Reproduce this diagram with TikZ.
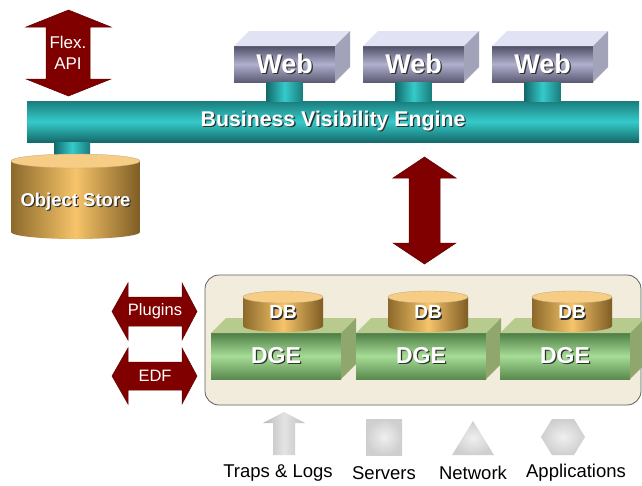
\documentclass[tikz,border=0pt]{standalone}
\usepackage{fontspec}
\setmainfont{Liberation Sans}
\usetikzlibrary{calc}
\definecolor{arrowred}{HTML}{800000}
\definecolor{tealdark}{HTML}{1A7C7C}
\definecolor{teallight}{HTML}{36CACA}
\definecolor{tealdeep}{HTML}{146A6A}
\definecolor{webdark}{HTML}{4F4F66}
\definecolor{weblight}{HTML}{B0B0CF}
\definecolor{webbot}{HTML}{5C5C74}
\definecolor{webtopc}{HTML}{E2E2F5}
\definecolor{websidec}{HTML}{A2A2B8}
\definecolor{ordark}{HTML}{8C692B}
\definecolor{orlight}{HTML}{F6C46A}
\definecolor{ordeep}{HTML}{7E5C24}
\definecolor{ortop}{HTML}{F7CC84}
\definecolor{grdark}{HTML}{4E7E45}
\definecolor{grlight}{HTML}{A6DC96}
\definecolor{grbot}{HTML}{5A8A4F}
\definecolor{grtop}{HTML}{B7CB8F}
\definecolor{grside}{HTML}{8FA66D}
\definecolor{cream}{HTML}{F1ECDB}
\definecolor{shadowc}{HTML}{303030}
\newcommand\shd[1]{\leavevmode\rlap{\kern1.3pt\raisebox{-1.3pt}{\color{shadowc}#1}}#1}
\begin{document}
\begin{tikzpicture}[x=1pt,y=-1pt,
  redarrow/.style={fill=arrowred, draw=arrowred!75!black, line width=0.5pt},
  stub/.style={left color=tealdeep, right color=tealdark, middle color=teallight},
  webfront/.style={minimum width=101pt, minimum height=36pt, inner sep=0pt, outer sep=0pt,
    top color=webdark, bottom color=webbot, middle color=weblight,
    text=white, font=\bfseries\fontsize{27}{32}\selectfont},
  webtop/.style={fill=webtopc},
  webside/.style={fill=websidec},
  dgefront/.style={minimum width=130pt, minimum height=46pt, inner sep=0pt, outer sep=0pt,
    top color=grdark, bottom color=grbot, middle color=grlight,
    text=white, font=\bfseries\fontsize{23}{27}\selectfont},
  dgetop/.style={fill=grtop},
  dgeside/.style={fill=grside},
  orbody/.style={left color=ordark, right color=ordeep, middle color=orlight},
  orcap/.style={fill=ortop, draw=ordark!60, line width=0.3pt},
  whitelbl/.style={text=white, inner sep=0pt, font=\bfseries\fontsize{19}{22}\selectfont},
  arrowlbl/.style={text=white, inner sep=0pt, align=center, font=\fontsize{17}{21}\selectfont},
  icon/.style={left color=gray!55, right color=gray!50, middle color=gray!22},
  iconflat/.style={inner color=gray!12, outer color=gray!38},
  caption/.style={inner sep=0pt, font=\fontsize{18.5}{22}\selectfont}
]
\useasboundingbox (0,0) rectangle (642,485);
\fill[white] (0,0) rectangle (642,485);

% ---- Flex. API arrow
\fill[redarrow] (68.5,10) -- (111,27) -- (90,27) -- (90,79) -- (111,79) -- (68.5,96)
  -- (26,79) -- (46,79) -- (46,27) -- (26,27) -- cycle;
\node[arrowlbl] (flex) at (68,53) {Flex.\\API};

% ---- Business Visibility Engine bar
\node[minimum width=612pt, minimum height=41pt, inner sep=0pt, outer sep=0pt,
  top color=tealdark, bottom color=tealdeep, middle color=teallight,
  text=white, font=\bfseries\fontsize{21.3}{25}\selectfont] (bve) at (333,121.5)
  {\shd{Business Visibility Engine}};

% ---- Web servers
\foreach \n/\cx in {web1/284.5, web2/413.5, web3/542.5}{
  \node[webfront] (\n) at (\cx,64) {\shd{Web}};
  \fill[webtop] (\n.north west) -- ++(15,-15) -- ++(101,0) -- (\n.north east) -- cycle;
  \fill[webside] (\n.north east) -- ++(15,-15) -- ++(0,36) -- (\n.south east) -- cycle;
  \shade[stub] ($(\n.south)+(-18,0)$) rectangle ($(\n.south)+(18,19)$);
}

% ---- Object store
\shade[stub] ($(bve.south west)+(27,0)$) rectangle ($(bve.south west)+(63,19)$);
\shade[orbody] (11,161) -- (11,232) arc[start angle=180, end angle=0, x radius=64.5, y radius=7]
  -- (140,161) -- cycle;
\fill[orcap] (75.5,161) ellipse[x radius=64.5, y radius=7];
\node[whitelbl, font=\bfseries\fontsize{18.5}{22}\selectfont] (store) at (75.5,202) {\shd{Object Store}};

% ---- Central double arrow
\coordinate (bigtop) at (424.5,157);
\coordinate (bigbot) at (424.5,264);
\fill[redarrow] (bigtop) -- ++(31.5,21) -- ++(-16,0) -- ++(0,65) -- ++(16,0) -- (bigbot)
  -- ++(-31.5,-21) -- ++(16,0) -- ++(0,-65) -- ++(-16,0) -- cycle;

% ---- Cluster container
\node[minimum width=436pt, minimum height=130pt, inner sep=0pt, rounded corners=14pt,
  fill=cream, draw=gray!75!black, line width=0.8pt] (cluster) at (423,340) {};

% ---- DGE boxes with DB cylinders
\foreach \n/\cx/\d in {dge1/276/db1, dge2/421/db2, dge3/565/db3}{
  \node[dgefront] (\n) at (\cx,356) {\shd{DGE}};
  \fill[dgetop] (\n.north west) -- ++(15,-15) -- ++(130,0) -- (\n.north east) -- cycle;
  \fill[dgeside] (\n.north east) -- ++(15,-15) -- ++(0,46) -- (\n.south east) -- cycle;
  \shade[orbody] (\cx-33,297) -- (\cx-33,326) arc[start angle=180, end angle=0, x radius=40, y radius=6]
    -- (\cx+47,297) -- cycle;
  \fill[orcap] (\cx+7,297) ellipse[x radius=40, y radius=6];
  \node[whitelbl] (\d) at (\cx+7,313) {\shd{DB}};
}

% ---- Plugins / EDF arrows
\fill[redarrow] (112,311.5) -- (128,283) -- (128,297) -- (182,297) -- (182,283) -- (197,311.5)
  -- (182,340) -- (182,326) -- (128,326) -- (128,340) -- cycle;
\node[arrowlbl, font=\fontsize{16.5}{20}\selectfont] (plugins) at (155,311.5) {Plugins};
\fill[redarrow] (112,376) -- (128,348) -- (128,362) -- (182,362) -- (182,348) -- (197,376)
  -- (182,404) -- (182,390) -- (128,390) -- (128,404) -- cycle;
\node[arrowlbl, font=\fontsize{16.5}{20}\selectfont] (edf) at (155,376) {EDF};

% ---- Source icons
\shade[icon] (284,412) -- (305,423) -- (295,423) -- (295,455) -- (273,455) -- (273,423) -- (263,423) -- cycle;
\shade[iconflat] (366,419) rectangle (402,455);
\shade[iconflat] (473,421) -- (494,455) -- (452,455) -- cycle;
\shade[iconflat] (552,419) -- (574,419) -- (585,437) -- (574,455) -- (552,455) -- (541,437) -- cycle;

\node[caption] (traps) at (278,473) {Traps \& Logs};
\node[caption] (servers) at (384,473) {Servers};
\node[caption] (network) at (473,473) {Network};
\node[caption] (apps) at (576,473) {Applications};
\end{tikzpicture}
\end{document}
